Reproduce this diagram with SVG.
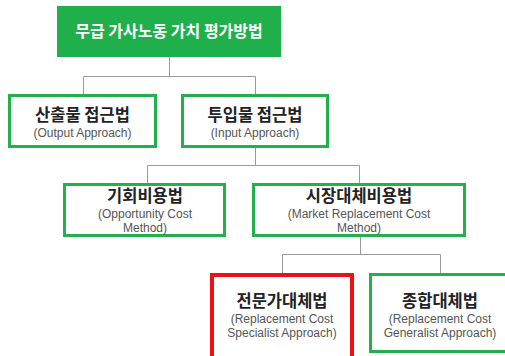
<svg xmlns="http://www.w3.org/2000/svg" width="505" height="356" viewBox="0 0 505 356">
<style>
.box{fill:#ffffff;stroke:#22b14c;stroke-width:3}
.red{fill:#ffffff;stroke:#ee1111;stroke-width:4}
.ko{font-family:"Noto Sans CJK KR","Noto Sans",sans-serif;font-weight:bold;font-size:16.5px;fill:#222222;text-anchor:middle}
.en{font-family:"Liberation Sans",Arial,sans-serif;font-size:12px;fill:#555555;text-anchor:middle}
.title{font-family:"Noto Sans CJK KR","Noto Sans",sans-serif;font-weight:bold;font-size:16px;fill:#ffffff;text-anchor:middle}
.conn{fill:none;stroke:#9a9a9a;stroke-width:1}
</style>
<rect width="505" height="356" fill="#ffffff"/>
<g id="connectors">
<path class="conn" d="M169.5 57V76.5M83.5 94V76.5H255.5V94"/>
<path class="conn" d="M255.5 148V165.5M147.5 183V165.5H359.5V183"/>
<path class="conn" d="M360.5 237V254.5M282.5 273V254.5H440.5V273"/>
</g>
<g id="root">
<rect x="57" y="6" width="224" height="51" fill="#20b04b"/>
<text class="title" x="169" y="37">무급 가사노동 가치 평가방법</text>
</g>
<g id="output">
<rect class="box" x="9.5" y="95.5" width="146" height="51"/>
<text class="ko" x="82.5" y="121">산출물 접근법</text>
<text class="en" x="82.5" y="137">(Output Approach)</text>
</g>
<g id="input">
<rect class="box" x="182.5" y="95.5" width="145" height="51"/>
<text class="ko" x="255" y="121">투입물 접근법</text>
<text class="en" x="255" y="137">(Input Approach)</text>
</g>
<g id="opportunity">
<rect class="box" x="64.5" y="184.5" width="160" height="51"/>
<text class="ko" x="145" y="202">기회비용법</text>
<text class="en" x="145" y="218">(Opportunity Cost</text>
<text class="en" x="145" y="232">Method)</text>
</g>
<g id="market">
<rect class="box" x="253.5" y="184.5" width="211" height="51"/>
<text class="ko" x="359" y="202">시장대체비용법</text>
<text class="en" x="359" y="218">(Market Replacement Cost</text>
<text class="en" x="359" y="232">Method)</text>
</g>
<g id="specialist">
<rect class="red" x="212" y="275" width="140" height="90"/>
<text class="ko" x="282" y="307">전문가대체법</text>
<text class="en" x="282" y="323">(Replacement Cost</text>
<text class="en" x="282" y="337">Specialist Approach)</text>
</g>
<g id="generalist">
<rect class="box" x="370.5" y="274.5" width="140" height="77"/>
<text class="ko" x="440" y="307">종합대체법</text>
<text class="en" x="440" y="323">(Replacement Cost</text>
<text class="en" x="440" y="337">Generalist Approach)</text>
</g>
</svg>
